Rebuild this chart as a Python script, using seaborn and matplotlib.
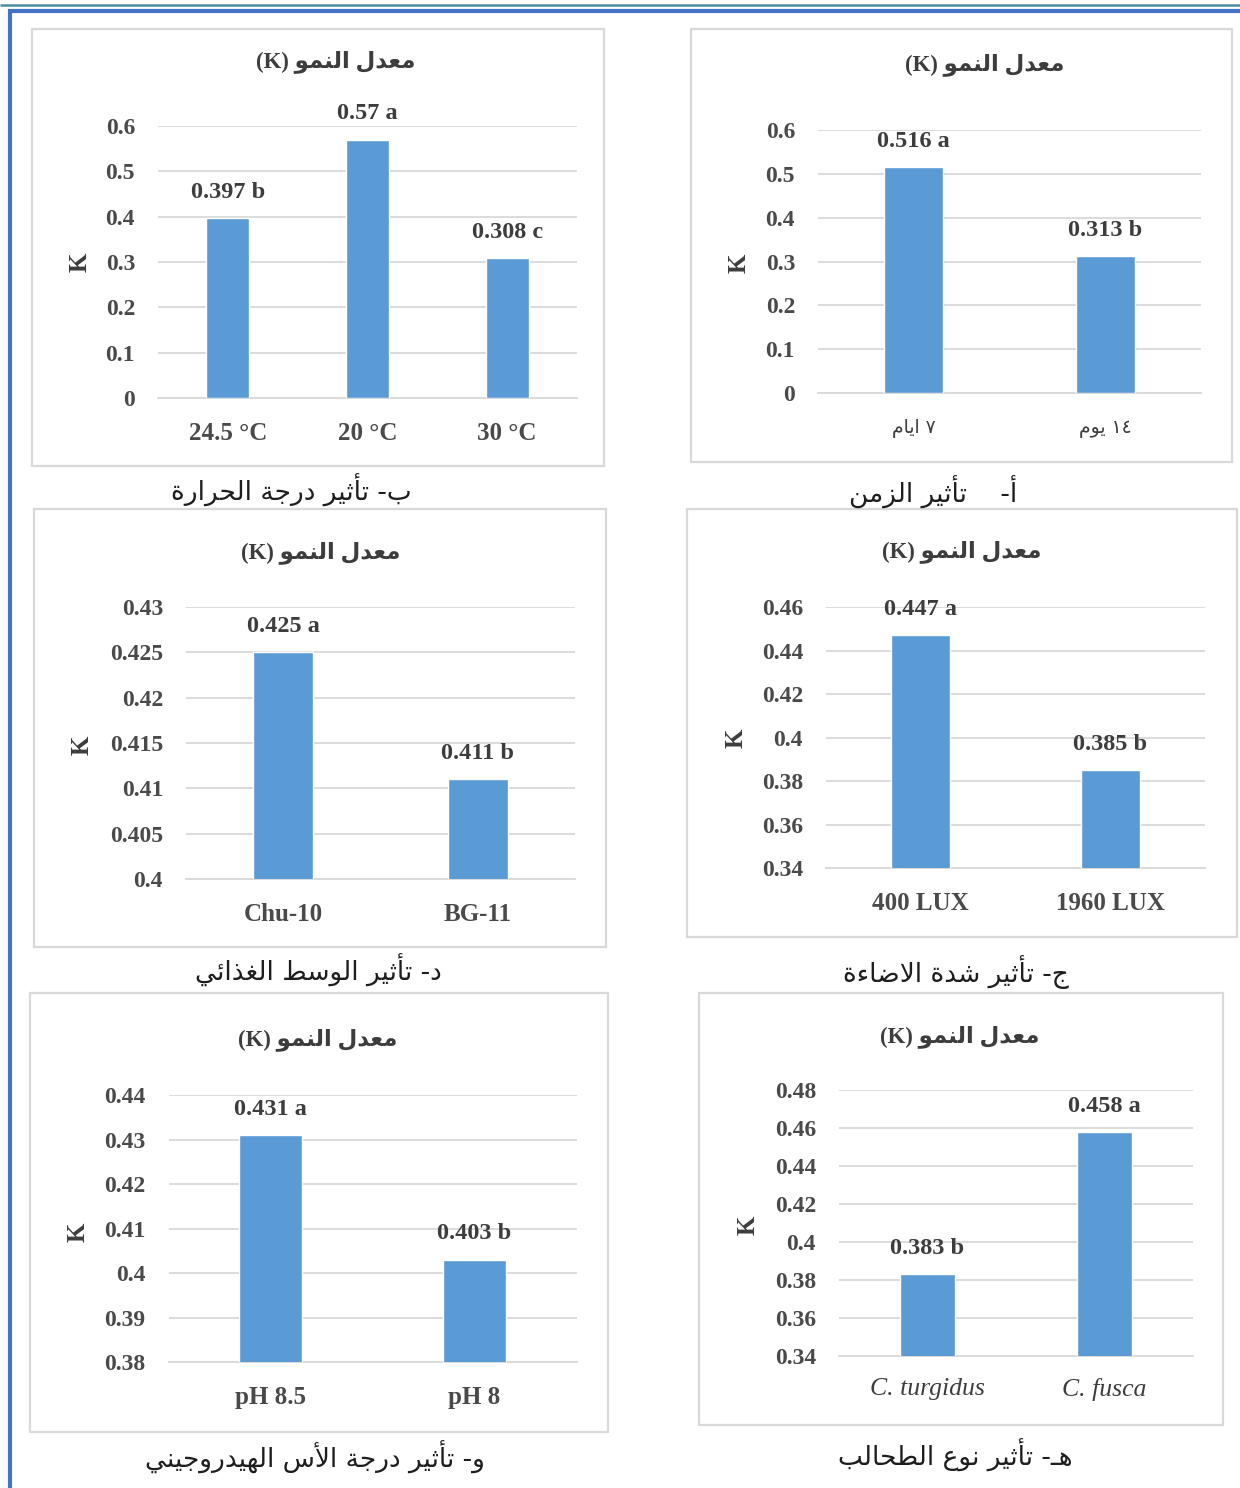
import matplotlib
matplotlib.use("Agg")
import matplotlib.pyplot as plt
from matplotlib.patches import Rectangle
from matplotlib.lines import Line2D
from matplotlib.ticker import FixedLocator, FuncFormatter
import seaborn as sns
import pandas as pd

# ---------------------------------------------------------------- data
time_labels = ["٧ ايام", "١٤ يوم"]
time_k = [0.516, 0.313]
time_groups = ["a", "b"]

temp_labels = ["24.5 °C", "20 °C", "30 °C"]
temp_k = [0.397, 0.57, 0.308]
temp_groups = ["b", "a", "c"]

light_labels = ["400 LUX", "1960 LUX"]
light_k = [0.447, 0.385]
light_groups = ["a", "b"]

medium_labels = ["Chu-10", "BG-11"]
medium_k = [0.425, 0.411]
medium_groups = ["a", "b"]

algae_labels = ["C. turgidus", "C. fusca"]
algae_k = [0.383, 0.458]
algae_groups = ["b", "a"]

ph_labels = ["pH 8.5", "pH 8"]
ph_k = [0.431, 0.403]
ph_groups = ["a", "b"]

chart_title = "معدل النمو (K)"
y_label = "K"
captions = {
    "temp": "ب- تأثير درجة الحرارة",
    "time": "أ-    تأثير الزمن",
    "medium": "د- تأثير الوسط الغذائي",
    "light": "ج- تأثير شدة الاضاءة",
    "ph": "و- تأثير درجة الأس الهيدروجيني",
    "algae": "هـ- تأثير نوع الطحالب",
}

# ------------------------------------------------- Arabic shaping (RTL)
_FORMS = {
    'ء': ('\uFE80', None, None, None),
    'أ': ('\uFE83', '\uFE84', None, None),
    'ا': ('\uFE8D', '\uFE8E', None, None),
    'ب': ('\uFE8F', '\uFE90', '\uFE91', '\uFE92'),
    'ة': ('\uFE93', '\uFE94', None, None),
    'ت': ('\uFE95', '\uFE96', '\uFE97', '\uFE98'),
    'ث': ('\uFE99', '\uFE9A', '\uFE9B', '\uFE9C'),
    'ج': ('\uFE9D', '\uFE9E', '\uFE9F', '\uFEA0'),
    'ح': ('\uFEA1', '\uFEA2', '\uFEA3', '\uFEA4'),
    'د': ('\uFEA9', '\uFEAA', None, None),
    'ذ': ('\uFEAB', '\uFEAC', None, None),
    'ر': ('\uFEAD', '\uFEAE', None, None),
    'ز': ('\uFEAF', '\uFEB0', None, None),
    'س': ('\uFEB1', '\uFEB2', '\uFEB3', '\uFEB4'),
    'ش': ('\uFEB5', '\uFEB6', '\uFEB7', '\uFEB8'),
    'ض': ('\uFEBD', '\uFEBE', '\uFEBF', '\uFEC0'),
    'ط': ('\uFEC1', '\uFEC2', '\uFEC3', '\uFEC4'),
    'ع': ('\uFEC9', '\uFECA', '\uFECB', '\uFECC'),
    'غ': ('\uFECD', '\uFECE', '\uFECF', '\uFED0'),
    'ل': ('\uFEDD', '\uFEDE', '\uFEDF', '\uFEE0'),
    'م': ('\uFEE1', '\uFEE2', '\uFEE3', '\uFEE4'),
    'ن': ('\uFEE5', '\uFEE6', '\uFEE7', '\uFEE8'),
    'ه': ('\uFEE9', '\uFEEA', '\uFEEB', '\uFEEC'),
    'و': ('\uFEED', '\uFEEE', None, None),
    'ي': ('\uFEF1', '\uFEF2', '\uFEF3', '\uFEF4'),
    'ئ': ('\uFE89', '\uFE8A', '\uFE8B', '\uFE8C'),
    'ـ': ('\u0640', '\u0640', '\u0640', '\u0640'),
}
_LAM_ALEF = {'ا': ('\uFEFB', '\uFEFC'), 'أ': ('\uFEF7', '\uFEF8')}
_MIRROR = {'(': ')', ')': '('}


def _joins_forward(ch):
    f = _FORMS.get(ch)
    return f is not None and f[2] is not None


def rtl(text):
    """Shape Arabic letters and return the string in visual (left-to-right) order."""
    chars = list(text)
    out = []
    i, n = 0, len(chars)
    while i < n:
        c = chars[i]
        if c not in _FORMS:
            out.append(c)
            i += 1
            continue
        prev = chars[i - 1] if i > 0 else None
        linked_prev = prev is not None and _joins_forward(prev)
        if c == 'ل' and i + 1 < n and chars[i + 1] in _LAM_ALEF:
            iso, fin = _LAM_ALEF[chars[i + 1]]
            out.append(fin if linked_prev else iso)
            i += 2
            continue
        nxt = chars[i + 1] if i + 1 < n else None
        iso, fin, ini, med = _FORMS[c]
        linked_next = ini is not None and nxt in _FORMS and nxt != 'ء'
        if linked_prev and linked_next:
            out.append(med)
        elif linked_prev:
            out.append(fin)
        elif linked_next:
            out.append(ini)
        else:
            out.append(iso)
        i += 1

    def is_ltr(ch):
        return ch.isdigit() or ('A' <= ch <= 'Z') or ('a' <= ch <= 'z')

    runs = []
    for ch in out:
        kind = is_ltr(ch)
        if runs and runs[-1][0] == kind:
            runs[-1][1].append(ch)
        else:
            runs.append((kind, [ch]))
    pieces = []
    for kind, run in reversed(runs):
        if kind:
            pieces.append(''.join(run))
        else:
            pieces.append(''.join(_MIRROR.get(ch, ch) for ch in reversed(run)))
    return ''.join(pieces)


# ---------------------------------------------------------------- style
W, H = 1240, 1488
sns.set_theme(style="white")
plt.rcParams["font.family"] = ["Liberation Serif", "DejaVu Sans"]

BAR = "#5B9BD5"
GRID = "#D9D9D9"
TICK_C = "#4a4a4a"
LABEL_C = "#3d3d3d"

fig = plt.figure(figsize=(W / 100, H / 100), dpi=100)
fig.patch.set_facecolor("white")


def fx(px):
    return px / W


def fy(py):
    return 1 - py / H


# page frame lines
fig.add_artist(Line2D([0, 1], [fy(5), fy(5)], transform=fig.transFigure,
                      color="#4A90A4", lw=1.8, solid_capstyle="butt"))
fig.add_artist(Line2D([fx(9.5), fx(9.5)], [fy(9), 0], transform=fig.transFigure,
                      color="#4472C4", lw=3.0, solid_capstyle="butt"))
fig.add_artist(Line2D([fx(8), 1], [fy(11), fy(11)], transform=fig.transFigure,
                      color="#4472C4", lw=3.0, solid_capstyle="butt"))


def panel(labels, values, groups, ylim, step, axes_px, box_px, title_px,
          ylab_px, caption, caption_px, arabic_ticks=False, italic_ticks=False):
    x0, x1, y0, y1 = axes_px
    ax = fig.add_axes([fx(x0), fy(y1), (x1 - x0) / W, (y1 - y0) / H])

    bx0, by0, bx1, by1 = box_px
    fig.add_artist(Rectangle((fx(bx0), fy(by1)), (bx1 - bx0) / W, (by1 - by0) / H,
                             transform=fig.transFigure, fill=False,
                             ec=GRID, lw=1.6))

    shown = [rtl(l) for l in labels] if arabic_ticks else labels
    df = pd.DataFrame({"group": shown, "K": values})
    sns.barplot(data=df, x="group", y="K", order=shown, color=BAR,
                saturation=1, width=0.31, ax=ax, zorder=3)

    ax.set_ylim(*ylim)
    ticks = []
    v = ylim[0]
    while v <= ylim[1] + step / 2:
        ticks.append(round(v, 4))
        v += step
    ax.yaxis.set_major_locator(FixedLocator(ticks))
    ax.yaxis.set_major_formatter(FuncFormatter(lambda t, p: f"{round(t, 4):g}"))
    ax.yaxis.grid(True, color=GRID, lw=1.3, zorder=0)
    ax.set_axisbelow(True)
    for s in ("top", "right", "left"):
        ax.spines[s].set_visible(False)
    ax.spines["bottom"].set_color(GRID)
    ax.spines["bottom"].set_linewidth(1.3)
    ax.set_facecolor("none")

    ax.tick_params(axis="y", length=0, pad=16.5, labelsize=17, labelcolor=TICK_C)
    for t in ax.get_yticklabels():
        t.set_fontweight("bold")
    if arabic_ticks:
        ax.tick_params(axis="x", length=0, pad=19, labelsize=13.5, labelcolor=LABEL_C)
        for t in ax.get_xticklabels():
            t.set_fontfamily(["DejaVu Sans"])
    elif italic_ticks:
        ax.tick_params(axis="x", length=0, pad=16, labelsize=18.5, labelcolor=LABEL_C)
        for t in ax.get_xticklabels():
            t.set_fontstyle("italic")
    else:
        ax.tick_params(axis="x", length=0, pad=17.5, labelsize=18, labelcolor=TICK_C)
        for t in ax.get_xticklabels():
            t.set_fontweight("bold")
    ax.set_xlabel("")
    ax.set_ylabel("")

    texts = [f"{v:g} {g}" for v, g in zip(values, groups)]
    ax.bar_label(ax.containers[0], labels=texts, padding=11, fontsize=17.5,
                 fontweight="bold", color=LABEL_C)

    fig.text(fx(title_px[0]), fy(title_px[1]), rtl(chart_title), ha="center",
             va="center", fontsize=16.5, fontweight="bold", color=LABEL_C)
    fig.text(fx(ylab_px[0]), fy(ylab_px[1]), y_label, rotation=90, ha="center",
             va="center", fontsize=18, fontweight="bold", color=LABEL_C)
    fig.text(fx(caption_px[0]), fy(caption_px[1]), rtl(caption), ha="center",
             va="center", fontsize=19, color="#1e1e1e", family=["DejaVu Sans"])
    return ax


panel(temp_labels, temp_k, temp_groups, (0, 0.6), 0.1,
      (158, 577, 126, 398), (32, 29, 604, 466), (336, 62), (80, 262),
      captions["temp"], (291, 490))
panel(time_labels, time_k, time_groups, (0, 0.6), 0.1,
      (818, 1201, 130, 393), (691, 29, 1232, 462), (985, 65), (739, 263),
      captions["time"], (933, 492), arabic_ticks=True)
panel(medium_labels, medium_k, medium_groups, (0.4, 0.43), 0.005,
      (186, 575, 607, 879), (34, 509, 606, 947), (321, 553), (82, 745),
      captions["medium"], (318, 970))
panel(light_labels, light_k, light_groups, (0.34, 0.46), 0.02,
      (826, 1205, 607, 868), (687, 509, 1237, 937), (962, 552), (736, 738),
      captions["light"], (956, 972))
panel(ph_labels, ph_k, ph_groups, (0.38, 0.44), 0.01,
      (168.5, 576.5, 1095, 1362), (30, 993, 608, 1432), (318, 1040), (78.5, 1232),
      captions["ph"], (315, 1457))
panel(algae_labels, algae_k, algae_groups, (0.34, 0.48), 0.02,
      (839, 1193, 1090, 1356), (699, 993, 1223, 1425), (960, 1037), (748.5, 1225),
      captions["algae"], (955, 1455), italic_ticks=True)

fig.savefig("out.png", dpi=100, facecolor="white")
